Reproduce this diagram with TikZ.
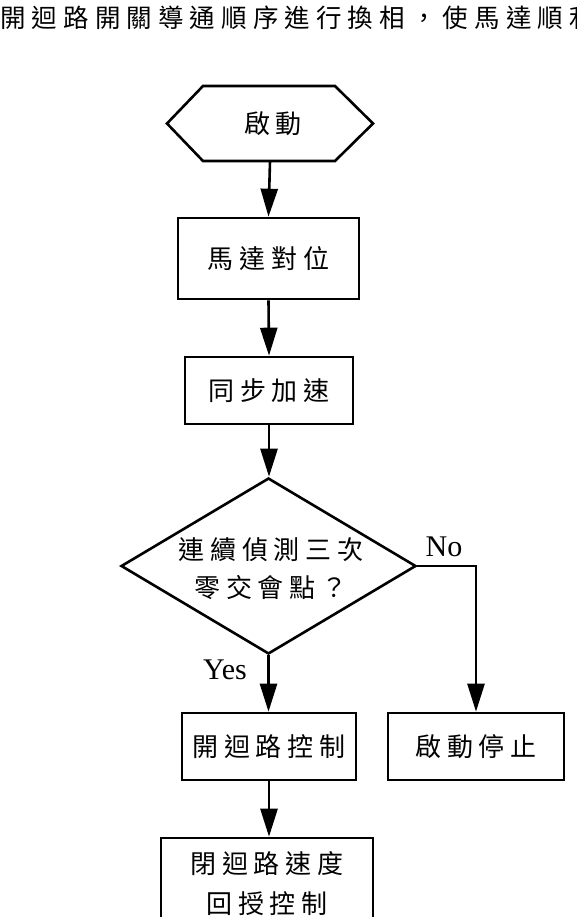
\documentclass[tikz,border=0pt]{standalone}
\usepackage{fontspec}
\setmainfont{Liberation Serif}
\newfontfamily\cjk[LetterSpace=22]{Noto Sans CJK TC}
\newfontfamily\cjktitle[LetterSpace=24]{Noto Sans CJK TC}
\usetikzlibrary{shapes.geometric,arrows.meta}
\begin{document}
\begin{tikzpicture}[x=1pt,y=-1pt,
  flow/.style={line width=2.6pt},
  arr/.style={flow,-{Triangle[width=17pt,length=28pt]}},
  box/.style={draw,line width=2.6pt,fill=white,rectangle,inner sep=0pt,
    font=\cjk\fontsize{26}{38}\selectfont,align=center},
  lbl/.style={inner sep=0pt,font=\fontsize{30}{30}\selectfont}]
\useasboundingbox (0,0) rectangle (577,917);
\fill[white] (0,0) rectangle (577,917);
\node[anchor=west,inner sep=0pt,font=\cjktitle\fontsize{25.5}{30}\selectfont] (title) at (0,18) {開迴路開關導通順序進行換相，使馬達順利};
% start hexagon
\node[inner sep=0pt,minimum width=206,minimum height=75] (start) at (270,123.5) {};
\draw[flow,fill=white,line join=miter] (167,123.5) -- (203,86) -- (335,86) -- (373,123.5) -- (335,161) -- (203,161) -- cycle;
\node[inner sep=0pt,font=\cjk\fontsize{26}{32}\selectfont] (starttext) at (273,123.5) {啟動};
\node[box,minimum width=181,minimum height=81] (align) at (268.5,258.5) {馬達對位};
\node[box,minimum width=168,minimum height=67] (accel) at (269,390.5) {同步加速};
\node[draw,diamond,line width=2.6pt,fill=white,inner sep=0pt,minimum width=295,minimum height=176] (dec) at (268.5,566) {};
\node[inner sep=0pt,align=center,font=\cjk\fontsize{26}{38}\selectfont] (dectext) at (271,569) {連續偵測三次\\零交會點？};
\node[box,minimum width=174,minimum height=67] (open) at (269,746.5) {開迴路控制};
\node[box,minimum width=176,minimum height=67] (stop) at (476,746.5) {啟動停止};
\node[box,minimum width=212,minimum height=92,font=\cjk\fontsize{26}{40}\selectfont] (closed) at (267,884) {閉迴路速度\\回授控制};
\node[lbl] (no) at (444,547) {No};
\node[lbl] (yes) at (225,670) {Yes};
\draw[arr] (start.south) -- (align.north);
\draw[arr] (align.south) -- (accel.north);
\draw[arr] (accel.south) -- (accel.south |- dec.north);
\draw[arr] (dec.south) -- (dec.south |- open.north);
\draw[arr] (dec.east) -| (stop.north);
\draw[arr] (open.south) -- (open.south |- closed.north);
\end{tikzpicture}
\end{document}
